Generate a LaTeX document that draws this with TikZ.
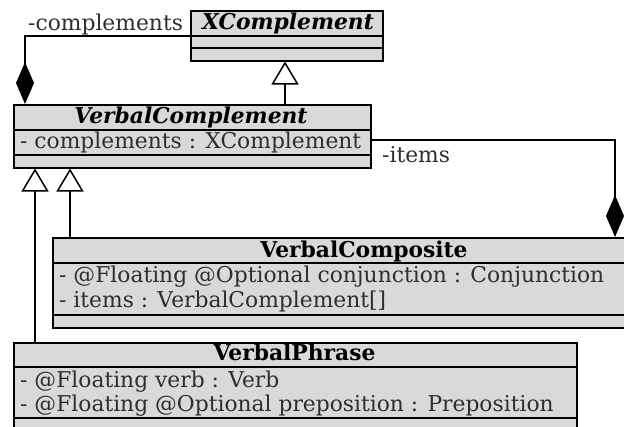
\documentclass[tikz,border=0pt]{standalone}
\usepackage{fontspec}
\setmainfont{DejaVu Serif}
\usetikzlibrary{arrows.meta}
\definecolor{classfill}{RGB}{217,217,217}
\tikzset{
  classbox/.style={draw=black, line width=1.5pt, fill=classfill, anchor=north west, inner sep=0pt},
  sep/.style={draw=black, line width=1.5pt},
  txt/.style={inner sep=0pt, anchor=base west, font=\fontsize{21.8}{24}\selectfont, text=black!82},
  ttl/.style={inner sep=0pt, anchor=base, font=\fontsize{21.8}{24}\selectfont\bfseries},
  gen/.style={draw=black, line width=1.5pt, -{Triangle[open, length=23pt, width=27pt, fill=white, line width=1.5pt]}},
  comp/.style={draw=black, line width=1.5pt, -{Diamond[length=42pt, width=18pt, fill=black]}},
}
\begin{document}
\begin{tikzpicture}[x=1pt, y=-1pt]
\useasboundingbox (0,0) rectangle (624,426);
\fill[white] (0,0) rectangle (624,426);
\clip (0,0) rectangle (624,426);
% XComplement
\node[classbox, minimum width=192pt, minimum height=50pt] (xc) at (190,10) {};
\draw[sep] (xc.west |- 0,36) -- (xc.east |- 0,36);
\draw[sep] (xc.west |- 0,48) -- (xc.east |- 0,48);
\node[ttl] (xct) at (288,29) {\itshape XComplement};
% VerbalComplement
\node[classbox, minimum width=357pt, minimum height=63pt] (vc) at (13,104) {};
\draw[sep] (vc.west |- 0,130) -- (vc.east |- 0,130);
\draw[sep] (vc.west |- 0,155) -- (vc.east |- 0,155);
\node[ttl] (vct) at (191,123) {\itshape VerbalComplement};
\node[txt] (vca) at (20,148) {- complements : XComplement};
% VerbalComposite
\node[classbox, minimum width=640pt, minimum height=90pt] (vcomp) at (52,237) {};
\draw[sep] (vcomp.west |- 0,263) -- (vcomp.east |- 0,263);
\draw[sep] (vcomp.west |- 0,315) -- (vcomp.east |- 0,315);
\node[ttl] (vcompt) at (364,257) {VerbalComposite};
\node[txt] (vcompa) at (59,282) {- @Floating @Optional conjunction : Conjunction};
\node[txt] (vcompb) at (59,307) {- items : VerbalComplement[]};
% VerbalPhrase
\node[classbox, minimum width=563pt, minimum height=100pt] (vp) at (13,342) {};
\draw[sep] (vp.west |- 0,367) -- (vp.east |- 0,367);
\draw[sep] (vp.west |- 0,418) -- (vp.east |- 0,418);
\node[ttl] (vpt) at (294.5,360) {VerbalPhrase};
\node[txt] (vpa) at (20,387) {- @Floating verb : Verb};
\node[txt] (vpb) at (20,411) {- @Floating @Optional preposition : Preposition};
% connectors
\draw[gen] (vc.north -| 285,0) -- (xc.south -| 285,0);
\draw[gen] (vcomp.north -| 70,0) -- (vc.south -| 70,0);
\draw[gen] (vp.north -| 35,0) -- (vc.south -| 35,0);
\draw[comp] (xc.west |- 0,36) -| (vc.north -| 25,0);
\draw[comp] (vc.east |- 0,140) -| (vcomp.north -| 615,0);
% labels
\node[txt] (lc) at (28,30) {-complements};
\node[txt] (li) at (382,162) {-items};
\end{tikzpicture}
\end{document}
